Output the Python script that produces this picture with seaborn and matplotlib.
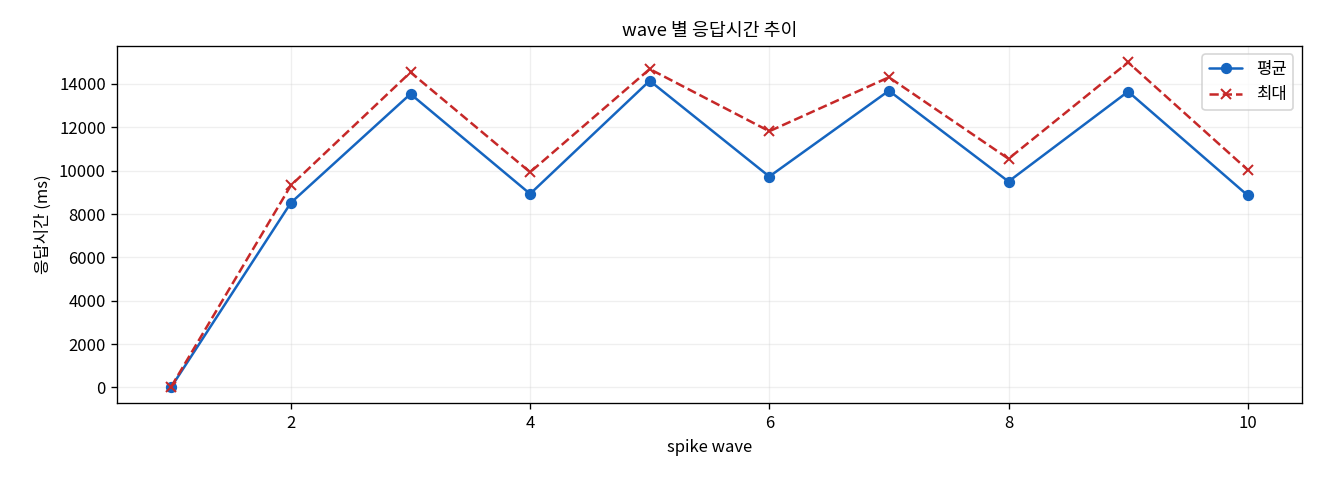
import numpy as np
import pandas as pd
import seaborn as sns
import matplotlib
matplotlib.use("Agg")
import matplotlib.pyplot as plt

# spike wave 별 응답시간 (ms)
waves = [1, 2, 3, 4, 5, 6, 7, 8, 9, 10]
avg_ms = [20, 8520, 13540, 8930, 14150, 9730, 13690, 9500, 13650, 8860]
max_ms = [40, 9320, 14540, 9930, 14690, 11820, 14310, 10550, 15000, 10040]

sns.set_style("ticks", {'axes.edgecolor': 'black', 'text.color': 'black',
                        'axes.labelcolor': 'black', 'xtick.color': 'black',
                        'ytick.color': 'black'})
plt.rcParams['font.family'] = ['Noto Sans CJK KR', 'DejaVu Sans']
plt.rcParams['axes.unicode_minus'] = False

df = pd.DataFrame({'wave': waves, 'avg': avg_ms, 'max': max_ms})

fig, ax = plt.subplots(figsize=(11, 4), dpi=120)

blue = '#1565C0'
red = '#C62828'
sns.lineplot(data=df, x='wave', y='avg', ax=ax, color=blue, marker='o',
             markersize=6, markeredgecolor=blue, markerfacecolor=blue,
             linewidth=1.5, label='평균')
sns.lineplot(data=df, x='wave', y='max', ax=ax, color=red, marker='x',
             markersize=6, markeredgecolor=red, markeredgewidth=1.2,
             linestyle='--', linewidth=1.5, label='최대')

ax.set_title('wave 별 응답시간 추이', fontsize=11)
ax.set_xlabel('spike wave')
ax.set_ylabel('응답시간 (ms)')
ax.grid(True, alpha=0.3)
ax.legend(loc='upper right')

fig.subplots_adjust(left=0.089, right=0.986, top=0.904, bottom=0.16)
plt.savefig('out.png', dpi=120)
